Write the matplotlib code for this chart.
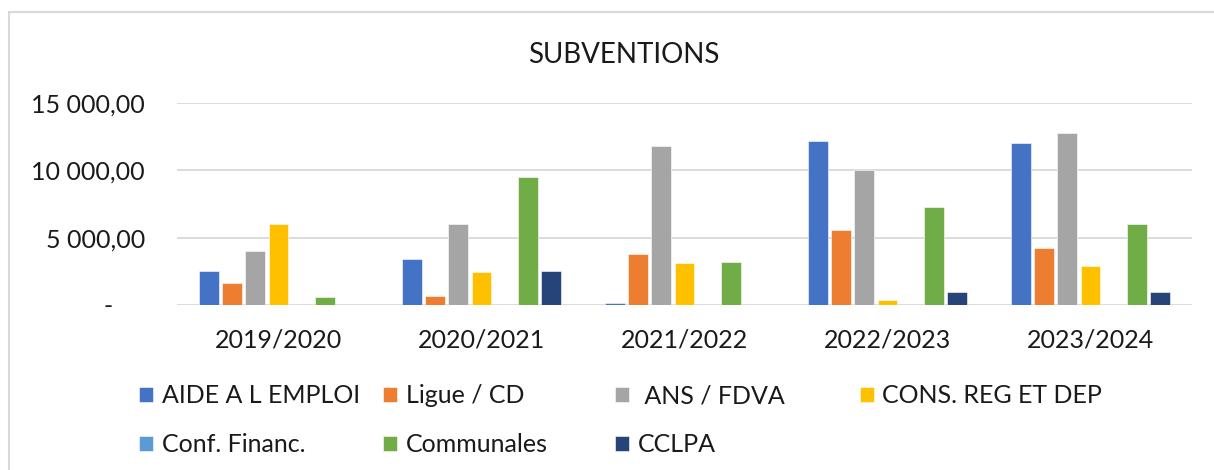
import numpy as np
import matplotlib
matplotlib.use('Agg')
import matplotlib.pyplot as plt
from matplotlib.ticker import FuncFormatter, FixedLocator
from matplotlib.patches import Rectangle

plt.rcParams['font.family'] = ['Lato', 'DejaVu Sans']

# data
seasons = ['2019/2020', '2020/2021', '2021/2022', '2022/2023', '2023/2024']
series_names = ['AIDE A L EMPLOI', 'Ligue / CD', ' ANS / FDVA', 'CONS. REG ET DEP',
                'Conf. Financ.', 'Communales', 'CCLPA']
aide_emploi = [2500, 3400, 150, 12150, 12000]
ligue_cd = [1600, 700, 3800, 5550, 4200]
ans_fdva = [4000, 6000, 11800, 10050, 12750]
cons_reg_dep = [6000, 2450, 3100, 400, 2870]
conf_financ = [0, 0, 0, 0, 0]
communales = [600, 9500, 3200, 7300, 6000]
cclpa = [0, 2500, 0, 1000, 1000]
series_values = [aide_emploi, ligue_cd, ans_fdva, cons_reg_dep, conf_financ, communales, cclpa]
colors = ['#4472C4', '#ED7D31', '#A5A5A5', '#FFC000', '#5B9BD5', '#70AD47', '#264478']
y_ticks = [0, 5000, 10000, 15000]

W, H = 1214, 470
fig = plt.figure(figsize=(W / 100, H / 100), dpi=100)
ax = fig.add_axes([177 / W, 1 - 305 / H, (1192 - 177) / W, (305 - 103) / H])

x = np.arange(len(seasons))
slot = 0.114
bars = []
for j, vals in enumerate(series_values):
    b = ax.bar(x + (j - 3) * slot, vals, width=0.098, color=colors[j],
               edgecolor='white', linewidth=0.4, label=series_names[j], zorder=3)
    bars.append(b)

ax.set_xlim(-0.5, len(seasons) - 0.5)
ax.set_ylim(0, 15000)
ax.yaxis.set_major_locator(FixedLocator(y_ticks))


def money(v, pos):
    if v == 0:
        return '-     '
    return f'{v:,.2f}'.replace(',', ' ').replace('.', ',')


ax.yaxis.set_major_formatter(FuncFormatter(money))
ax.set_xticks(x)
ax.set_xticklabels(seasons)
ax.tick_params(axis='both', length=0, labelsize=18, colors='#1a1a1a')
ax.tick_params(axis='y', pad=23)
ax.tick_params(axis='x', pad=17)
ax.grid(axis='y', color='#D9D9D9', linewidth=1.3, zorder=0)
for s in ax.spines.values():
    s.set_visible(False)

fig.text(624 / W, 1 - 55 / H, 'SUBVENTIONS', ha='center', va='center', fontsize=20, color='#1a1a1a')

# Excel style legend: equal columns, filled row by row
col_x = [139, 383, 615, 860]
for c in range(4):
    hs = [bars[k] for k in (c, c + 4) if k < len(bars)]
    labs = [series_names[k] for k in (c, c + 4) if k < len(bars)]
    fig.legend(hs, labs, loc='upper left', bbox_to_anchor=(col_x[c] / W, 1 - 384 / H),
               frameon=False, fontsize=18, handlelength=0.55, handleheight=0.55,
               handletextpad=0.35, labelspacing=1.05, borderpad=0, borderaxespad=0,
               labelcolor='#1a1a1a')

fig.add_artist(Rectangle((9 / W, -0.05), 1.1, 1 - 12 / H + 0.05, transform=fig.transFigure,
                         fill=False, edgecolor='#D9D9D9', linewidth=1.5))

fig.savefig('out.png', dpi=100, facecolor='white')
